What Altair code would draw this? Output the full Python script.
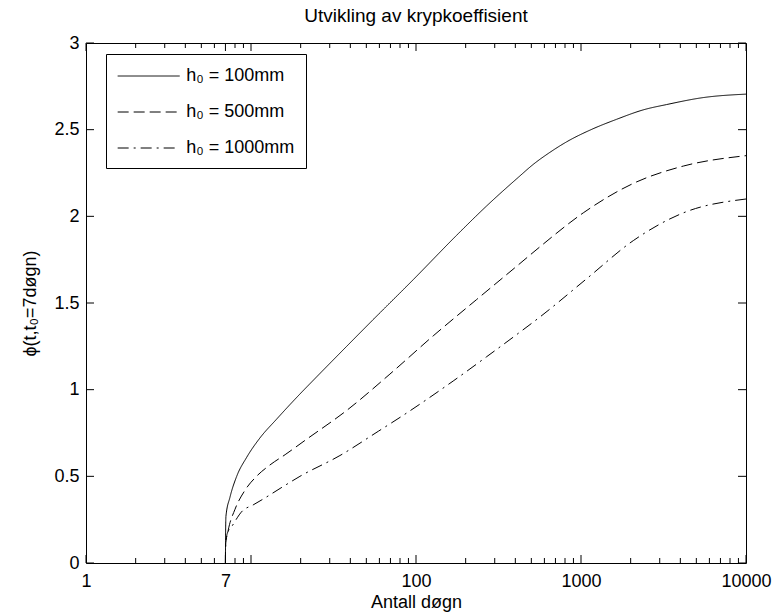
import altair as alt
import pandas as pd

# ---- data ----
series_names = ["h₀ = 100mm", "h₀ = 500mm", "h₀ = 1000mm"]

t_100 = [7, 7.01, 7.05, 7.46, 8.19, 9.42, 11.3, 14.3, 19.8, 23.9, 38, 55.1, 96.3, 176, 268, 417, 514, 650, 819, 1150, 1646, 2400, 3307, 5500, 10000]
phi_100 = [0, 0.13, 0.27, 0.38, 0.50, 0.61, 0.72, 0.83, 0.975, 1.055, 1.25, 1.405, 1.635, 1.89, 2.06, 2.225, 2.30, 2.37, 2.43, 2.50, 2.56, 2.615, 2.645, 2.685, 2.705]

t_500 = [7, 7.01, 7.28, 8.0, 9.2, 10.8, 13.0, 16.1, 21.8, 38, 69.5, 127, 233, 417, 565, 1032, 2075, 4170, 10000]
phi_500 = [0, 0.10, 0.19, 0.31, 0.42, 0.50, 0.565, 0.625, 0.715, 0.88, 1.09, 1.31, 1.52, 1.72, 1.825, 2.02, 2.19, 2.29, 2.35]

t_1000 = [7, 7.01, 7.18, 7.64, 8.86, 10.3, 11.9, 15, 19.8, 34.6, 59.1, 80, 168, 268, 417, 565, 1082, 2075, 4170, 10000]
phi_1000 = [0, 0.08, 0.17, 0.21, 0.30, 0.335, 0.37, 0.43, 0.50, 0.62, 0.76, 0.84, 1.05, 1.19, 1.325, 1.42, 1.64, 1.86, 2.02, 2.10]

x_labels = [1, 7, 100, 1000, 10000]
x_major_ticks = [1, 7, 10, 100, 1000, 10000]
x_minor_ticks = [2, 3, 4, 5, 6, 8, 9, 20, 30, 40, 50, 60, 70, 80, 90,
                 200, 300, 400, 500, 600, 700, 800, 900,
                 2000, 3000, 4000, 5000, 6000, 7000, 8000, 9000]
y_ticks = [0, 0.5, 1, 1.5, 2, 2.5, 3]

rows = []
for name, ts, ps in zip(series_names, [t_100, t_500, t_1000], [phi_100, phi_500, phi_1000]):
    for i, (a, b) in enumerate(zip(ts, ps)):
        rows.append({"t": a, "phi": b, "serie": name, "i": i})
df = pd.DataFrame(rows)

W, H = 660, 520
FONT = "Liberation Sans"
FS = 18
MAJ, MIN = 8, 5
SEG = 62            # legend line sample length
S = SEG / 6.0       # custom symbol path unit

xscale = alt.Scale(type="log", domain=[1, 10000])
yscale = alt.Scale(domain=[0, 3])

lines = alt.Chart(df).mark_line(color="black", strokeWidth=1, interpolate="monotone").encode(
    x=alt.X("t:Q", scale=xscale,
            axis=alt.Axis(values=x_labels, format="d", title="Antall døgn", ticks=False,
                          domain=False, grid=False, labelPadding=9, titlePadding=3,
                          labelFlush=False)),
    y=alt.Y("phi:Q", scale=yscale,
            axis=alt.Axis(values=y_ticks, format="~g", title="ϕ(t,t₀=7døgn)", ticks=False,
                          domain=False, grid=False, labelPadding=7, titlePadding=14)),
    strokeDash=alt.StrokeDash(
        "serie:N",
        scale=alt.Scale(domain=series_names, range=[[1, 0], [11, 5], [11, 5, 2, 5]]),
        legend=alt.Legend(title=None, orient="none", legendX=20, legendY=11,
                          strokeColor="black", fillColor="white", padding=11,
                          symbolType="M-1,0H5", symbolSize=(2 * S) ** 2, symbolStrokeWidth=1,
                          symbolStrokeColor="black", labelFontSize=FS, labelFont=FONT,
                          labelColor="black", labelOffset=4 * S + 6, rowPadding=16),
    ),
    order="i:Q",
)

xmaj = pd.DataFrame({"v": x_major_ticks})
xmin = pd.DataFrame({"v": x_minor_ticks})
yt = pd.DataFrame({"v": y_ticks})


def xticks(data, length):
    base = alt.Chart(data).mark_rule(color="black", strokeWidth=1)
    enc_x = alt.X("v:Q", scale=xscale, axis=None)
    bottom = base.encode(x=enc_x, y=alt.value(H), y2=alt.value(H - length))
    top = base.encode(x=enc_x, y=alt.value(0), y2=alt.value(length))
    return bottom + top


enc_y = alt.Y("v:Q", scale=yscale, axis=None)
yleft = alt.Chart(yt).mark_rule(color="black", strokeWidth=1).encode(
    y=enc_y, x=alt.value(0), x2=alt.value(MAJ))
yright = alt.Chart(yt).mark_rule(color="black", strokeWidth=1).encode(
    y=enc_y, x=alt.value(W), x2=alt.value(W - MAJ))

chart = alt.layer(
    lines, xticks(xmaj, MAJ), xticks(xmin, MIN), yleft, yright
).resolve_axis(
    x="independent", y="independent"
).properties(
    width=W, height=H,
    title=alt.TitleParams("Utvikling av krypkoeffisient", font=FONT, fontSize=19,
                          fontWeight="normal", color="black", anchor="middle", offset=8),
    autosize=alt.AutoSizeParams(type="none"),
    padding={"left": 86, "top": 43, "right": 26, "bottom": 53},
    background="white",
).configure_view(
    stroke="black", strokeWidth=1
).configure_axis(
    labelFont=FONT, labelFontSize=FS, labelColor="black",
    titleFont=FONT, titleFontSize=FS, titleFontWeight="normal", titleColor="black",
)

chart.save("out.html", embed_options={"renderer": "svg", "actions": False})
